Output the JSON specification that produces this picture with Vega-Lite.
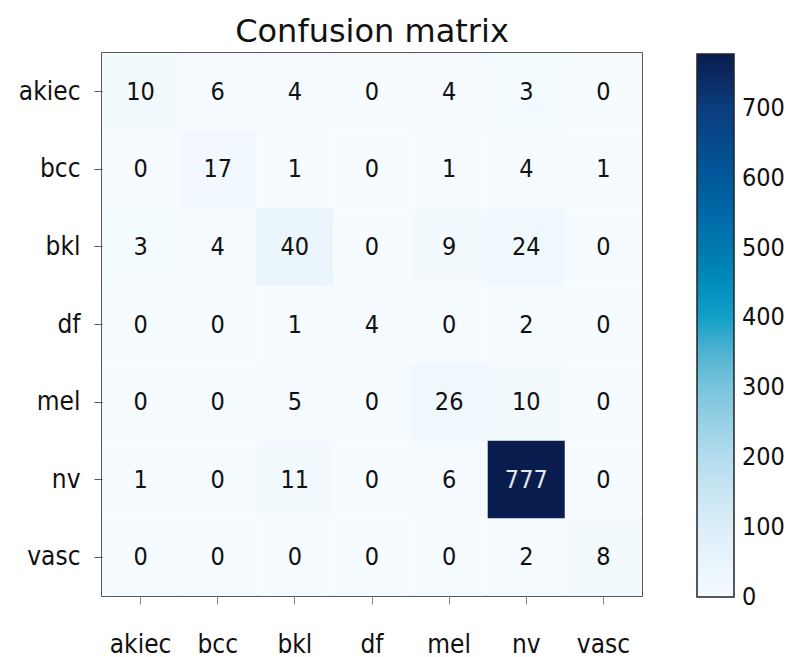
{
  "$schema": "https://vega.github.io/schema/vega-lite/v6.json",
  "autosize": "none",
  "width": 540,
  "height": 543,
  "padding": {"left": 102, "top": 53, "right": 151, "bottom": 61},
  "background": "white",
  "title": {"text": "Confusion matrix", "fontSize": 32, "font": "DejaVu Sans", "fontWeight": "normal", "anchor": "middle", "offset": 4, "color": "#111"},
  "config": {"view": {"stroke": "#222", "strokeWidth": 1.5}, "font": "DejaVu Sans Condensed"},
  "data": {"values": [
    {"t": "akiec", "p": "akiec", "v": 10}, {"t": "akiec", "p": "bcc", "v": 6}, {"t": "akiec", "p": "bkl", "v": 4}, {"t": "akiec", "p": "df", "v": 0}, {"t": "akiec", "p": "mel", "v": 4}, {"t": "akiec", "p": "nv", "v": 3}, {"t": "akiec", "p": "vasc", "v": 0},
    {"t": "bcc", "p": "akiec", "v": 0}, {"t": "bcc", "p": "bcc", "v": 17}, {"t": "bcc", "p": "bkl", "v": 1}, {"t": "bcc", "p": "df", "v": 0}, {"t": "bcc", "p": "mel", "v": 1}, {"t": "bcc", "p": "nv", "v": 4}, {"t": "bcc", "p": "vasc", "v": 1},
    {"t": "bkl", "p": "akiec", "v": 3}, {"t": "bkl", "p": "bcc", "v": 4}, {"t": "bkl", "p": "bkl", "v": 40}, {"t": "bkl", "p": "df", "v": 0}, {"t": "bkl", "p": "mel", "v": 9}, {"t": "bkl", "p": "nv", "v": 24}, {"t": "bkl", "p": "vasc", "v": 0},
    {"t": "df", "p": "akiec", "v": 0}, {"t": "df", "p": "bcc", "v": 0}, {"t": "df", "p": "bkl", "v": 1}, {"t": "df", "p": "df", "v": 4}, {"t": "df", "p": "mel", "v": 0}, {"t": "df", "p": "nv", "v": 2}, {"t": "df", "p": "vasc", "v": 0},
    {"t": "mel", "p": "akiec", "v": 0}, {"t": "mel", "p": "bcc", "v": 0}, {"t": "mel", "p": "bkl", "v": 5}, {"t": "mel", "p": "df", "v": 0}, {"t": "mel", "p": "mel", "v": 26}, {"t": "mel", "p": "nv", "v": 10}, {"t": "mel", "p": "vasc", "v": 0},
    {"t": "nv", "p": "akiec", "v": 1}, {"t": "nv", "p": "bcc", "v": 0}, {"t": "nv", "p": "bkl", "v": 11}, {"t": "nv", "p": "df", "v": 0}, {"t": "nv", "p": "mel", "v": 6}, {"t": "nv", "p": "nv", "v": 777}, {"t": "nv", "p": "vasc", "v": 0},
    {"t": "vasc", "p": "akiec", "v": 0}, {"t": "vasc", "p": "bcc", "v": 0}, {"t": "vasc", "p": "bkl", "v": 0}, {"t": "vasc", "p": "df", "v": 0}, {"t": "vasc", "p": "mel", "v": 0}, {"t": "vasc", "p": "nv", "v": 2}, {"t": "vasc", "p": "vasc", "v": 8}
  ]},
  "encoding": {
    "x": {"field": "p", "type": "nominal", "sort": ["akiec", "bcc", "bkl", "df", "mel", "nv", "vasc"], "scale": {"paddingInner": 0, "paddingOuter": 0},
      "axis": {"title": null, "labelAngle": 0, "labelFont": "DejaVu Sans Condensed", "labelFontSize": 26, "labelColor": "#111", "labelPadding": 27, "tickSize": 8, "tickColor": "#888", "domain": false, "grid": false}},
    "y": {"field": "t", "type": "nominal", "sort": ["akiec", "bcc", "bkl", "df", "mel", "nv", "vasc"], "scale": {"paddingInner": 0, "paddingOuter": 0},
      "axis": {"title": null, "labelFont": "DejaVu Sans Condensed", "labelFontSize": 26, "labelColor": "#111", "labelPadding": 14, "tickSize": 8, "tickColor": "#555", "domain": false, "grid": false}}
  },
  "layer": [
    {"mark": {"type": "rect"},
     "encoding": {"color": {"field": "v", "type": "quantitative",
        "scale": {"type": "linear", "domain": [0, 100, 200, 300, 400, 500, 600, 700, 777],
          "range": ["#f5fbff", "#dceef8", "#b4dcee", "#78c4dc", "#12a0c8", "#0078b0", "#00589a", "#0a3d7e", "#081c4e"]},
        "legend": {"title": null, "orient": "none", "legendX": 595, "legendY": 1, "direction": "vertical",
          "gradientLength": 543, "gradientThickness": 37, "gradientStrokeColor": "#222", "gradientStrokeWidth": 1.5,
          "values": [0, 100, 200, 300, 400, 500, 600, 700], "labelFont": "DejaVu Sans Condensed", "labelFontSize": 25, "labelColor": "#111", "labelOffset": 8,
          "encode": {"labels": {"update": {"baseline": {"value": "middle"}}}}}}}},
    {"mark": {"type": "text", "fontSize": 25, "font": "DejaVu Sans Condensed"},
     "encoding": {"text": {"field": "v", "type": "quantitative"},
       "color": {"condition": {"test": "datum.v > 388", "value": "#e6e6e6"}, "value": "#111"}}}
  ]
}
